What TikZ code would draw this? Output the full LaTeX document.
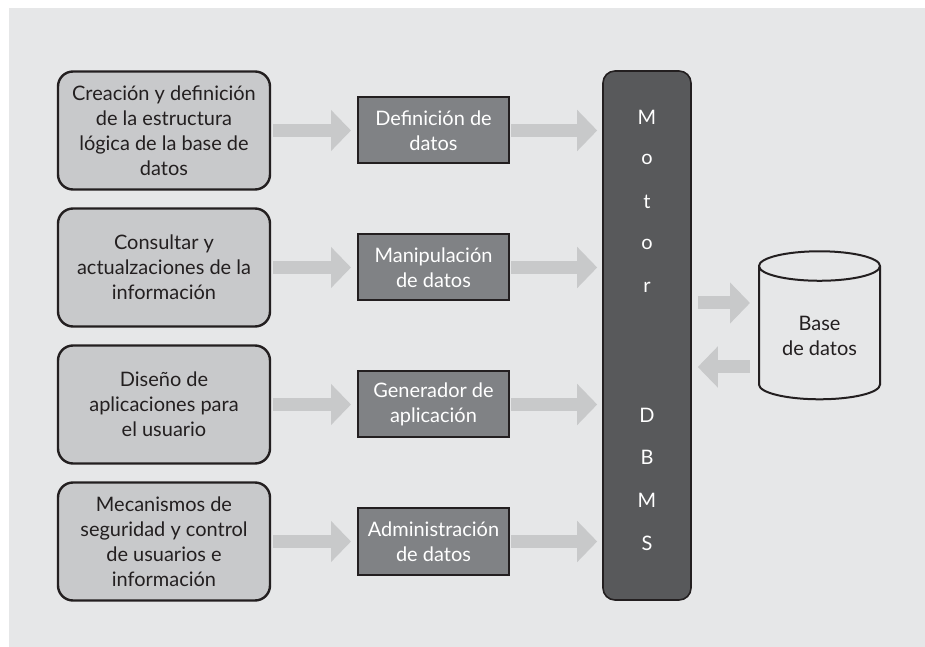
\documentclass[tikz,border=0pt]{standalone}
\usepackage{fontspec}
\setmainfont{Lato}
\usepackage{xcolor}
\usetikzlibrary{arrows.meta, shapes.geometric, positioning, calc}
\definecolor{fondo}{HTML}{E6E7E8}
\definecolor{grisclaro}{HTML}{C8C9CB}
\definecolor{grismedio}{HTML}{808285}
\definecolor{grisoscuro}{HTML}{58595B}
\definecolor{grisflecha}{HTML}{C8C9CA}
\definecolor{linea}{HTML}{231F20}
\newcommand\fuente{\fontsize{14.2}{17.8}\selectfont}

\begin{document}
\begin{tikzpicture}[x=0.25mm, y=-0.25mm,
        tarea/.style={rectangle, draw=linea, line width=0.6mm, fill=grisclaro, rounded corners=3.75mm, minimum width=53mm, minimum height=29.5mm, align=center, text=linea, font=\fuente},
        modulo/.style={rectangle, draw=linea, line width=0.5mm, fill=grismedio, minimum width=37.75mm, minimum height=16.5mm, align=center, text=white, font=\fuente},
        motor/.style={rectangle, draw=linea, line width=0.4mm, fill=grisoscuro, rounded corners=3mm, minimum width=22mm, minimum height=132.25mm},
        letra/.style={text=white, font=\fuente, inner sep=0pt},
        base/.style={cylinder, shape border rotate=90, aspect=0.35, draw=linea, line width=0.5mm, fill=fondo, minimum width=30.25mm, minimum height=37mm, align=center, text=linea, font=\fuente},
        flecha/.style={draw=grisflecha, line width=3.25mm, -{Triangle[length=5mm, width=10mm]}}
    ]
        % Fondo
        \fill[white] (0,0) rectangle (925,647);
        \fill[fondo] (9,8) rectangle (925,647);
        % Tareas
        \node (t1) [tarea] at (164, 130.5) {Creación y definición\\de la estructura\\lógica de la base de\\datos};
        \node (t2) [tarea] at (164, 267.5) {Consultar y\\actualzaciones de la\\información};
        \node (t3) [tarea] at (164, 404.5) {Diseño de\\aplicaciones para\\el usuario};
        \node (t4) [tarea] at (164, 541.5) {Mecanismos de\\seguridad y control\\de usuarios e\\información};
        % Modulos
        \node (m1) [modulo] at (433.5, 130.5) {Definición de\\datos};
        \node (m2) [modulo] at (433.5, 267.5) {Manipulación\\de datos};
        \node (m3) [modulo] at (433.5, 404.5) {Generador de\\aplicación};
        \node (m4) [modulo] at (433.5, 541.5) {Administración\\de datos};
        % Motor DBMS
        \node (dbms) [motor] at (647, 335.5) {};
        \foreach \ch/\k in {M/0, o/1, t/2, o/3, r/4, D/7, B/8, M/9, S/10}
            \node (letra\k) [letra] at (647, 117+42.6*\k) {\ch};
        % Base de datos
        \node (bd) [base] at (819.5, 336) {Base\\de datos};
        \coordinate (ida) at (0, 303);
        \coordinate (vuelta) at (0, 367);
        % Flechas
        \foreach \i in {1,...,4} {
            \draw [flecha, shorten <=0.5mm, shorten >=1.5mm] (t\i) -- (m\i);
            \draw [flecha, shorten <=0.25mm, shorten >=1.25mm] (m\i) -- (m\i -| dbms.west);
        }
        \draw [flecha, shorten <=1.5mm, shorten >=2mm] (dbms.east |- ida) -- (bd.west |- ida);
        \draw [flecha, shorten <=2mm, shorten >=1.5mm] (bd.west |- vuelta) -- (dbms.east |- vuelta);
    \end{tikzpicture}
\end{document}
